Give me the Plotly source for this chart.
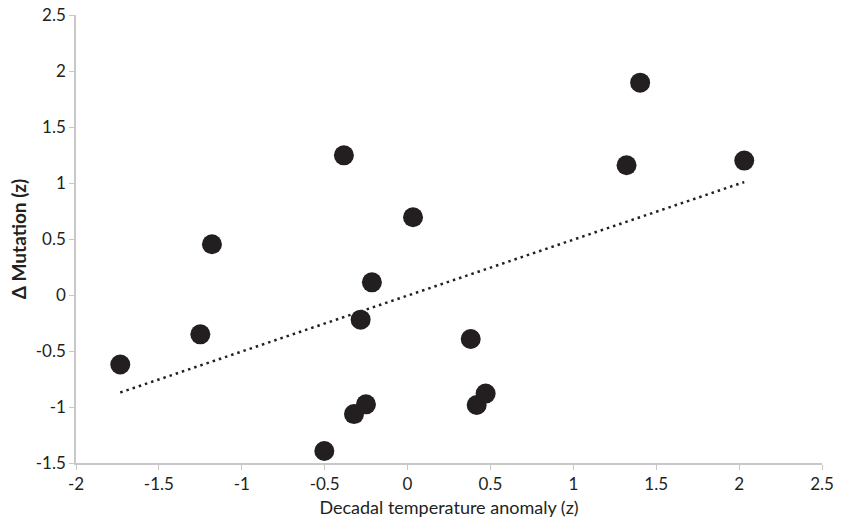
import numpy as np
import plotly.graph_objects as go

temp_anomaly = [-1.733, -1.250, -1.180, -0.384, -0.215, -0.283, 0.033, -0.502,
                -0.323, -0.251, 0.381, 0.417, 0.471, 1.321, 1.403, 2.031]
delta_mutation = [-0.621, -0.351, 0.453, 1.247, 0.113, -0.220, 0.694, -1.393,
                  -1.063, -0.976, -0.393, -0.982, -0.880, 1.158, 1.896, 1.200]

x_ticks = [-2, -1.5, -1, -0.5, 0, 0.5, 1, 1.5, 2, 2.5]
y_ticks = [-1.5, -1, -0.5, 0, 0.5, 1, 1.5, 2, 2.5]

slope, intercept = np.polyfit(temp_anomaly, delta_mutation, 1)
trend_x = [min(temp_anomaly), max(temp_anomaly)]
trend_y = [slope * v + intercept for v in trend_x]

font = "Lato, 'Open Sans', sans-serif"
fig = go.Figure()
fig.add_trace(go.Scatter(x=trend_x, y=trend_y, mode="lines",
                         line=dict(color="#231f20", width=2.5, dash="2.5px,4px"),
                         hoverinfo="skip", showlegend=False))
fig.add_trace(go.Scatter(x=temp_anomaly, y=delta_mutation, mode="markers",
                         marker=dict(size=20, color="#231f20", line=dict(width=0)),
                         showlegend=False))

axis_common = dict(showgrid=False, zeroline=False, showline=True, linecolor="#c8c8c8",
                   linewidth=1.5, ticks="outside", tickcolor="#c8c8c8", ticklen=5,
                   tickwidth=1, automargin=False,
                   tickfont=dict(family=font, size=17, color="#231f20"))
fig.update_xaxes(range=[-2, 2.5], tickvals=x_ticks, ticktext=[f"{v:g}" for v in x_ticks],
                 title=dict(text="Decadal temperature anomaly (z)", standoff=8,
                            font=dict(family=font, size=18, color="#231f20")),
                 **axis_common)
fig.update_yaxes(range=[-1.5, 2.5], tickvals=y_ticks, ticktext=[f"{v:g}" for v in y_ticks],
                 title=dict(text="<b>Δ Mutation (z)</b>", standoff=4,
                            font=dict(family=font, size=19, color="#231f20")),
                 **axis_common)
fig.update_layout(width=841, height=526, margin=dict(l=76, r=19, t=15, b=63),
                  plot_bgcolor="white", paper_bgcolor="white")
fig.write_html("out.html", config={"displayModeBar": False},
               post_script="document.body.style.margin='0';document.body.style.overflow='hidden';")
